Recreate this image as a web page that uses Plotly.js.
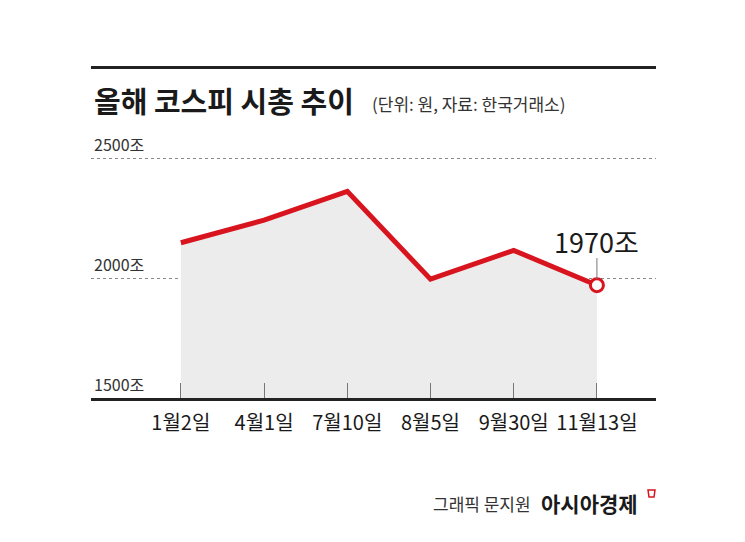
<!DOCTYPE html>
<html>
<head>
<meta charset="utf-8">
<script src="https://cdn.plot.ly/plotly-3.0.1.min.js"></script>
<style>
html,body{margin:0;padding:0;background:#fff;}
#chart{width:745px;height:542px;}
</style>
</head>
<body>
<div id="chart"></div>
<script>
// ---- data ----
const dates = ['1월2일', '4월1일', '7월10일', '8월5일', '9월30일', '11월13일'];
const marketCap = [2147, 2241, 2361, 1995, 2115, 1970];
const yTickVals = [1500, 2000, 2500];
const yTickText = ['1500조', '2000조', '2500조'];
const titleText = '올해 코스피 시총 추이';
const subtitleText = '(단위: 원, 자료: 한국거래소)';
const creditText = '그래픽 문지원';
const brandText = '아시아경제';

// ---- layout geometry (pixels) ----
const W = 745, H = 542;
const L = 91, R = 656, T = 150, B = 398;
const px = x => (x - L) / (R - L);
const py = y => (B - y) / (B - T);
const FONT = '"Noto Sans CJK KR", "Noto Sans", sans-serif';
const RED = '#d8141f';

const n = dates.length;
const last = n - 1;

const traces = [
  {
    x: dates, y: marketCap, type: 'scatter', mode: 'lines',
    line: {color: RED, width: 5}, fill: 'tozeroy', fillcolor: '#ececec',
    hoverinfo: 'skip'
  },
  {
    x: [dates[last]], y: [marketCap[last]], type: 'scatter', mode: 'markers',
    marker: {size: 13, color: '#ffffff', line: {color: RED, width: 3}},
    hoverinfo: 'skip'
  }
];

const annotations = [];
yTickVals.forEach((v, i) => {
  annotations.push({
    xref: 'paper', x: px(92), yref: 'y', y: v, yshift: 14,
    xanchor: 'left', yanchor: 'middle', showarrow: false,
    text: yTickText[i], font: {family: FONT, size: 16, color: '#333'}
  });
});
annotations.push({
  xref: 'x', x: dates[last], yref: 'y', y: marketCap[last], yshift: 44,
  xanchor: 'center', yanchor: 'middle', showarrow: false,
  text: marketCap[last] + '조', font: {family: FONT, size: 27, color: '#1a1a1a'}
});
annotations.push({
  xref: 'paper', x: px(92), yref: 'paper', y: py(100),
  xanchor: 'left', yanchor: 'middle', showarrow: false,
  text: '<b>' + titleText + '</b>', font: {family: FONT, size: 29, color: '#1a1a1a'}
});
annotations.push({
  xref: 'paper', x: px(370), yref: 'paper', y: py(104),
  xanchor: 'left', yanchor: 'middle', showarrow: false,
  text: subtitleText, font: {family: FONT, size: 17, color: '#333'}
});
annotations.push({
  xref: 'paper', x: px(533), yref: 'paper', y: py(503),
  xanchor: 'right', yanchor: 'middle', showarrow: false,
  text: creditText, font: {family: FONT, size: 17, color: '#333'}
});
annotations.push({
  xref: 'paper', x: px(539), yref: 'paper', y: py(503),
  xanchor: 'left', yanchor: 'middle', showarrow: false,
  text: '<b>' + brandText + '</b>', font: {family: FONT, size: 21, color: '#1a1a1a'}
});

const shapes = [
  {type: 'line', xref: 'paper', yref: 'paper', x0: 0, x1: 1, y0: py(67.5), y1: py(67.5),
   line: {color: '#222', width: 3}},
  {type: 'line', xref: 'x', yref: 'paper', x0: last, x1: last, y0: py(279), y1: py(258),
   line: {color: '#777', width: 1}},
  {type: 'path', xref: 'paper', yref: 'paper',
   path: 'M ' + px(648) + ' ' + py(490) + ' L ' + px(655) + ' ' + py(490) + ' L ' + px(654) + ' ' + py(497) +
         ' L ' + px(649) + ' ' + py(497) + ' Z',
   line: {color: RED, width: 1.5}}
];

const layout = {
  width: W, height: H,
  margin: {l: L, r: W - R, t: T, b: H - B, pad: 0},
  paper_bgcolor: '#fff', plot_bgcolor: '#fff',
  showlegend: false,
  xaxis: {
    type: 'category', range: [-1.08, 5.71], fixedrange: true,
    showgrid: false, zeroline: false,
    showline: true, linecolor: '#222', linewidth: 3,
    ticks: 'inside', ticklen: 15, tickcolor: '#777', tickwidth: 1,
    tickfont: {family: FONT, size: 20, color: '#1a1a1a'},
    ticklabelstandoff: 5
  },
  yaxis: {
    range: [1500, 1500 + (B - T) / 0.24], fixedrange: true,
    tickvals: yTickVals.slice(1), showticklabels: false, ticks: '',
    showgrid: true, gridcolor: '#8a8a8a', gridwidth: 1, griddash: 'dot',
    zeroline: false, showline: false
  },
  annotations: annotations,
  shapes: shapes
};

Plotly.newPlot('chart', traces, layout, {staticPlot: true, displayModeBar: false});
</script>
</body>
</html>
